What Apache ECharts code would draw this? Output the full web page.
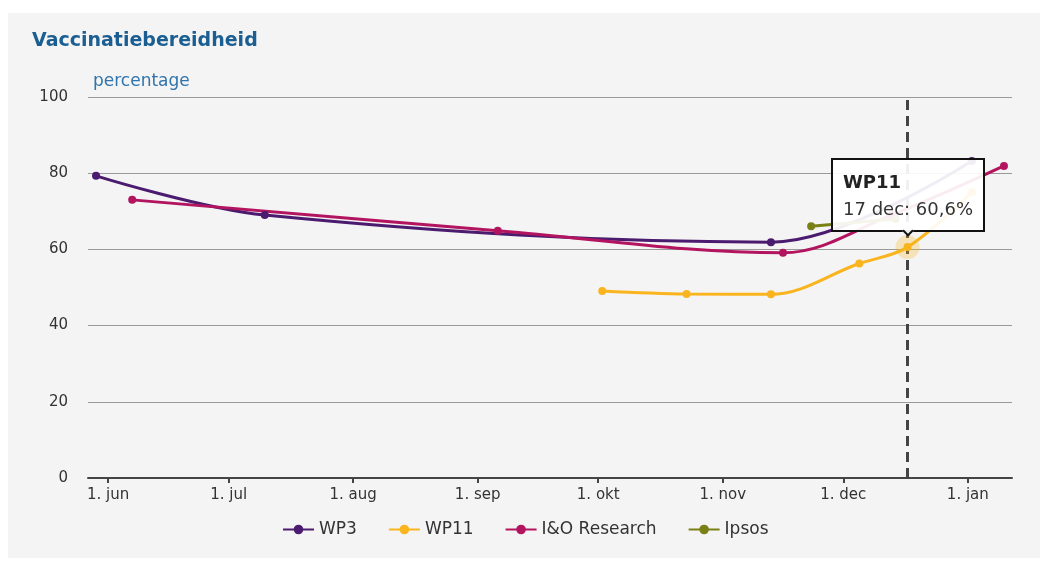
<!DOCTYPE html>
<html>

<head>
    <meta charset="utf-8">
    <title>Vaccinatiebereidheid</title>
    <script src="https://cdn.jsdelivr.net/npm/echarts@6/dist/echarts.min.js"></script>
    <style>
        body { margin: 0; background: #fff; }
        #main { position: absolute; left: 8px; top: 13px; width: 1032px; height: 545px; background: #f4f4f4; }
    </style>
</head>

<body>
    <div id="main"></div>
    <script type="text/javascript">

        // series data: [date, percentage]
        var wp3Data = [['2020-05-29', 79.3], ['2020-07-10', 69.0], ['2020-11-13', 61.9], ['2021-01-02', 83.2]];
        var wp11Data = [['2020-10-02', 49.1], ['2020-10-23', 48.3], ['2020-11-13', 48.2], ['2020-12-05', 56.3], ['2020-12-17', 60.6], ['2021-01-02', 75.0]];
        var ioData = [['2020-06-07', 73.0], ['2020-09-06', 64.9], ['2020-11-16', 59.1], ['2020-12-13', 69.0], ['2021-01-10', 81.9]];
        var ipsosData = [['2020-11-23', 66.1], ['2020-12-14', 68.0]];

        var seriesNames = ['WP3', 'WP11', 'I&O Research', 'Ipsos'];
        var seriesColors = ['#4b1b6f', '#f9b41e', '#b3145f', '#7b8016'];

        // x axis ticks (first of each month)
        var monthTicks = ['2020-06-01', '2020-07-01', '2020-08-01', '2020-09-01', '2020-10-01', '2020-11-01', '2020-12-01', '2021-01-01'];
        var monthLabels = ['1. jun', '1. jul', '1. aug', '1. sep', '1. okt', '1. nov', '1. dec', '1. jan'];
        var monthShort = ['jan', 'feb', 'mrt', 'apr', 'mei', 'jun', 'jul', 'aug', 'sep', 'okt', 'nov', 'dec'];
        var yTicks = [0, 20, 40, 60, 80, 100];

        var highlightDate = '2020-12-17';   // crosshair + tooltip point of WP11
        var highlightIndex = 4;

        // 'yyyy-mm-dd' -> timestamp (local time)
        function ts(s) {
            var p = s.split('-');
            return new Date(+p[0], +p[1] - 1, +p[2]).getTime();
        }
        function toPoints(arr) {
            return arr.map(function (d) { return [ts(d[0]), d[1]]; });
        }

        var font = 'DejaVu Sans, Verdana, sans-serif';
        var tickValues = monthTicks.map(ts);
        var myChart = echarts.init(document.getElementById('main'));

        function lineSeries(i, data) {
            return {
                name: seriesNames[i],
                type: 'line',
                smooth: 0.35,
                symbol: 'circle',
                symbolSize: 8,
                color: seriesColors[i],
                lineStyle: { width: 3 },
                itemStyle: { color: seriesColors[i] },
                emphasis: { disabled: true },
                data: toPoints(data),
                z: 3
            };
        }

        var series = [
            lineSeries(0, wp3Data),
            lineSeries(1, wp11Data),
            lineSeries(2, ioData),
            lineSeries(3, ipsosData)
        ];
        // dashed crosshair and halo at the tooltip point
        series[1].markLine = {
            silent: true,
            symbol: 'none',
            label: { show: false },
            lineStyle: { color: '#444', width: 3, type: [10, 6] },
            data: [{ xAxis: ts(highlightDate) }],
            z: 1
        };
        series[1].markPoint = {
            silent: true,
            symbol: 'circle',
            symbolSize: 24,
            label: { show: false },
            itemStyle: { color: 'rgba(249,180,30,0.28)' },
            data: [{ coord: toPoints(wp11Data)[highlightIndex] }]
        };

        var option = {
            animation: false,
            textStyle: { fontFamily: font },
            title: [{
                text: 'Vaccinatiebereidheid',
                left: 19,
                top: 14,
                textStyle: { fontFamily: font, fontSize: 19, fontWeight: 'bold', color: '#1b5e91' }
            }, {
                text: 'percentage',
                left: 80,
                top: 55,
                textStyle: { fontFamily: font, fontSize: 17, fontWeight: 'normal', color: '#2f74ad' }
            }],
            grid: { left: 80, right: 28, top: 84, bottom: 80 },
            legend: {
                left: 269,
                top: 503,
                itemWidth: 31,
                itemHeight: 12,
                itemGap: 31,
                textStyle: { fontFamily: font, fontSize: 17, color: '#333' },
                data: seriesNames
            },
            tooltip: {
                trigger: 'item',
                triggerOn: 'none',
                alwaysShowContent: true,
                position: 'top',
                backgroundColor: 'rgba(255,255,255,0.92)',
                borderColor: '#111',
                borderWidth: 2,
                borderRadius: 0,
                padding: [8, 10],
                extraCssText: 'box-shadow:none;',
                textStyle: { fontFamily: font, fontSize: 18, color: '#333' },
                formatter: function (p) {
                    var d = new Date(p.value[0]);
                    return '<b style="color:#222">' + p.seriesName + '</b><br>' +
                        d.getDate() + ' ' + monthShort[d.getMonth()] + ': ' +
                        p.value[1].toFixed(1).replace('.', ',') + '%';
                }
            },
            xAxis: {
                type: 'value',
                min: ts('2020-05-27'),
                max: ts('2021-01-12'),
                axisLine: { lineStyle: { color: '#444', width: 2 } },
                axisTick: { show: true, customValues: tickValues, length: 5, lineStyle: { color: '#444', width: 2 } },
                axisLabel: {
                    customValues: tickValues,
                    margin: 10,
                    fontFamily: font,
                    fontSize: 15,
                    color: '#333',
                    formatter: function (v) {
                        var i = tickValues.indexOf(v);
                        return i >= 0 ? monthLabels[i] : '';
                    }
                },
                splitLine: { show: false }
            },
            yAxis: {
                type: 'value',
                min: yTicks[0],
                max: yTicks[yTicks.length - 1],
                interval: 20,
                axisLine: { show: false },
                axisTick: { show: false },
                axisLabel: { margin: 20, fontFamily: font, fontSize: 15, color: '#333' },
                splitLine: { lineStyle: { color: '#999', width: 1 } }
            },
            series: series
        };
        myChart.setOption(option);
        myChart.dispatchAction({ type: 'showTip', seriesIndex: 1, dataIndex: highlightIndex });
    </script>
</body>

</html>
